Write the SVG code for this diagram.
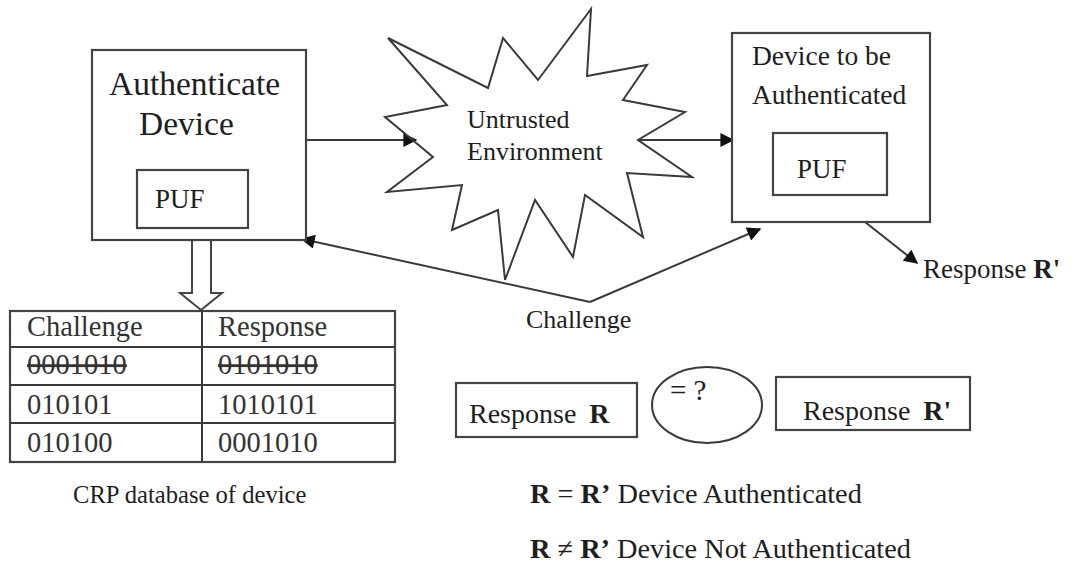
<svg xmlns="http://www.w3.org/2000/svg" width="1079" height="565" viewBox="0 0 1079 565" font-family="Liberation Serif, Times New Roman, Tinos, Noto Serif, DejaVu Serif, FreeSerif, serif">
<defs>
<style>
.ln{fill:none;stroke:#3a3a3a;stroke-width:2}
.bx{fill:#fff;stroke:#444;stroke-width:2.2}
text{font-family:Liberation Serif, Times New Roman, Tinos, Noto Serif, DejaVu Serif, FreeSerif, serif;fill:#1e1e1e}
.b{font-weight:bold}
.tb{font-size:28.5px;fill:#333}
</style>
<marker id="ah2" viewBox="0 0 10 10" refX="9" refY="5" markerWidth="16" markerHeight="14" markerUnits="userSpaceOnUse" orient="auto">
<path d="M0,0 L10,5 L0,10 z" fill="#111"/>
</marker>
</defs>
<rect width="1079" height="565" fill="#fff"/>

<g id="connectors">
<line class="ln" x1="306" y1="140" x2="416" y2="140" marker-end="url(#ah2)"/>
<line class="ln" x1="638" y1="140" x2="733" y2="140" marker-end="url(#ah2)"/>
<line class="ln" x1="590" y1="302" x2="302" y2="239" marker-end="url(#ah2)"/>
<line class="ln" x1="590" y1="302" x2="760" y2="229" marker-end="url(#ah2)"/>
<line class="ln" x1="865" y1="222" x2="917" y2="263" marker-end="url(#ah2)"/>
<path d="M192,241 L192,293 L180,293 L201,310 L222,293 L211,293 L211,241" fill="#fff" stroke="#444" stroke-width="2"/>
</g>

<g id="authenticate-device">
<rect class="bx" x="92" y="50" width="214" height="190"/>
<text x="109" y="95" font-size="33.5">Authenticate</text>
<text x="139" y="135" font-size="33.5">Device</text>
<rect class="bx" x="137" y="170" width="111" height="58"/>
<text x="155" y="208" font-size="27">PUF</text>
</g>

<g id="untrusted-environment">
<polygon class="ln" stroke="#555" points="388,38 488,88 503,38 538,80 591,9 587,76 647,65 623,100 685,112 638,140 692,177 627,173 643,237 585,195 573,257 535,200 505,280 498,210 452,230 462,185 387,192 433,157 385,117 447,105"/>
<text x="467" y="128" font-size="26" fill="#333">Untrusted</text>
<text x="467" y="160" font-size="26" fill="#333">Environment</text>
</g>

<g id="device-to-be-authenticated">
<rect class="bx" x="732" y="33" width="198" height="189"/>
<text x="752" y="65" font-size="27.5">Device to be</text>
<text x="752" y="104" font-size="27.5">Authenticated</text>
<rect class="bx" x="773" y="133" width="114" height="62"/>
<text x="797" y="178" font-size="27">PUF</text>
</g>

<g id="response-r-prime-out">
<text x="923" y="278" font-size="27">Response <tspan class="b">R'</tspan></text>
</g>

<g id="challenge-label">
<text x="526" y="328" font-size="26">Challenge</text>
</g>

<g id="crp-table">
<rect x="10" y="311" width="385" height="151" fill="#fff" stroke="#444" stroke-width="2.2"/>
<line class="ln" x1="202" y1="311" x2="202" y2="462"/>
<line class="ln" x1="10" y1="347" x2="395" y2="347"/>
<line class="ln" x1="10" y1="385" x2="395" y2="385"/>
<line class="ln" x1="10" y1="423" x2="395" y2="423"/>
<text class="tb" x="27" y="336">Challenge</text>
<text class="tb" x="218" y="336">Response</text>
<text class="tb" x="27" y="374" text-decoration="line-through">0001010</text>
<text class="tb" x="218" y="374" text-decoration="line-through">0101010</text>
<text class="tb" x="27" y="414">010101</text>
<text class="tb" x="218" y="414">1010101</text>
<text class="tb" x="27" y="452">010100</text>
<text class="tb" x="218" y="452">0001010</text>
<text x="73" y="503" font-size="24.6">CRP database of device</text>
</g>

<g id="response-r">
<rect class="bx" x="456" y="383" width="181" height="54"/>
<text x="469" y="423" font-size="28">Response <tspan class="b" dx="6">R</tspan></text>
</g>

<g id="compare">
<ellipse class="ln" cx="707" cy="405" rx="55" ry="38" stroke="#555"/>
<text x="670" y="400" font-size="29">= ?</text>
</g>

<g id="response-r-prime">
<rect class="bx" x="776" y="377" width="194" height="53"/>
<text x="803" y="420" font-size="28">Response <tspan class="b" dx="6">R'</tspan></text>
</g>

<g id="results">
<text x="530" y="503" font-size="28.3"><tspan class="b">R</tspan> = <tspan class="b">R’</tspan> Device Authenticated</text>
<text x="530" y="558" font-size="28.3"><tspan class="b">R</tspan> ≠ <tspan class="b">R’</tspan> Device Not Authenticated</text>
</g>
</svg>
